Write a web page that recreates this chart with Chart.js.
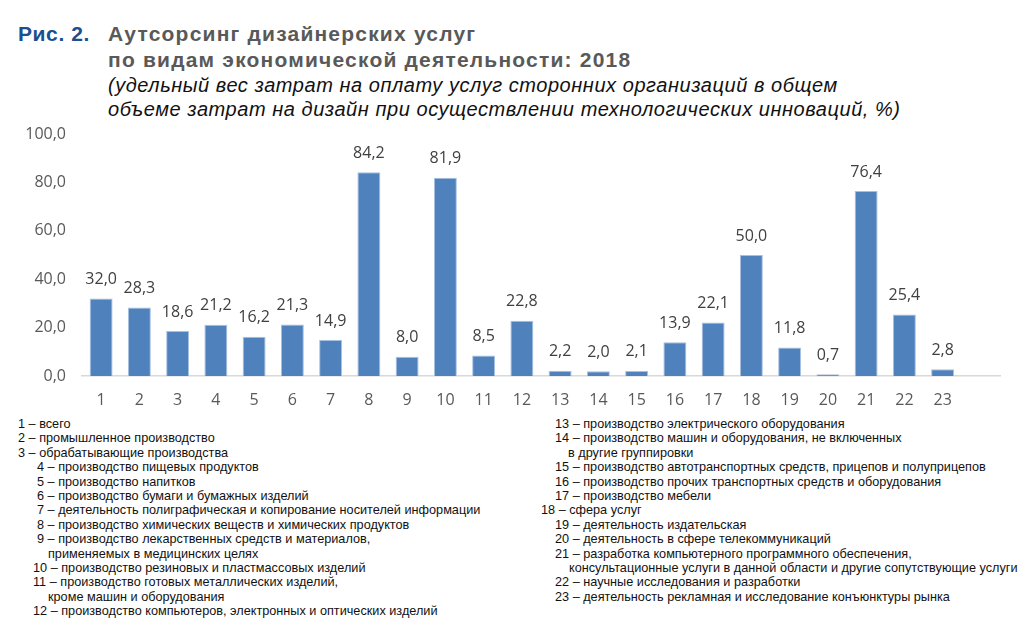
<!DOCTYPE html>
<html lang="ru">
<head>
<meta charset="utf-8">
<script src="https://cdn.jsdelivr.net/npm/chart.js@4"></script>
<style>
    body { margin: 0; width: 1024px; height: 627px; background: #fff; position: relative; overflow: hidden; font-family: "Liberation Sans", Arial, sans-serif; }
    .t { position: absolute; white-space: nowrap; line-height: 1; }
    .fig { left: 18px; top: 23px; font-size: 21px; font-weight: bold; color: #1b4f8f; letter-spacing: 0.6px; }
    .head { left: 108px; font-size: 21px; font-weight: bold; color: #595959; letter-spacing: 1.2px; }
    .sub { left: 108px; font-size: 20px; font-style: italic; color: #111; letter-spacing: 0.55px; }
    #chartBox { position: absolute; left: 0; top: 110px; width: 1024px; height: 306px; }
    .legend { position: absolute; top: 417px; font-size: 12.7px; line-height: 14.4px; color: #111; white-space: nowrap; }
    .legend div { height: 14.4px; }
</style>
</head>
<body>

<div class="t fig">Рис. 2.</div>
<div class="t head" style="top:23px">Аутсорсинг дизайнерских услуг</div>
<div class="t head" style="top:49px">по видам экономической деятельности: 2018</div>
<div class="t sub" style="top:75px">(удельный вес затрат на оплату услуг сторонних организаций в общем</div>
<div class="t sub" style="top:99px">объеме затрат на дизайн при осуществлении технологических инноваций, %)</div>

<div id="chartBox"><canvas id="chart"></canvas></div>

<div class="legend" style="left:18px">
    <div>1 – всего</div>
    <div>2 – промышленное производство</div>
    <div>3 – обрабатывающие производства</div>
    <div style="padding-left:19px">4 – производство пищевых продуктов</div>
    <div style="padding-left:19px">5 – производство напитков</div>
    <div style="padding-left:19px">6 – производство бумаги и бумажных изделий</div>
    <div style="padding-left:19px">7 – деятельность полиграфическая и копирование носителей информации</div>
    <div style="padding-left:19px">8 – производство химических веществ и химических продуктов</div>
    <div style="padding-left:19px">9 – производство лекарственных средств и материалов,</div>
    <div style="padding-left:30px">применяемых в медицинских целях</div>
    <div style="padding-left:15px">10 – производство резиновых и пластмассовых изделий</div>
    <div style="padding-left:15px">11 – производство готовых металлических изделий,</div>
    <div style="padding-left:30px">кроме машин и оборудования</div>
    <div style="padding-left:15px">12 – производство компьютеров, электронных и оптических изделий</div>
</div>

<div class="legend" style="left:541px">
    <div style="padding-left:14px">13 – производство электрического оборудования</div>
    <div style="padding-left:14px">14 – производство машин и оборудования, не включенных</div>
    <div style="padding-left:27px">в другие группировки</div>
    <div style="padding-left:14px">15 – производство автотранспортных средств, прицепов и полуприцепов</div>
    <div style="padding-left:14px">16 – производство прочих транспортных средств и оборудования</div>
    <div style="padding-left:14px">17 – производство мебели</div>
    <div>18 – сфера услуг</div>
    <div style="padding-left:14px">19 – деятельность издательская</div>
    <div style="padding-left:14px">20 – деятельность в сфере телекоммуникаций</div>
    <div style="padding-left:14px">21 – разработка компьютерного программного обеспечения,</div>
    <div style="padding-left:28px">консультационные услуги в данной области и другие сопутствующие услуги</div>
    <div style="padding-left:14px">22 – научные исследования и разработки</div>
    <div style="padding-left:14px">23 – деятельность рекламная и исследование конъюнктуры рынка</div>
</div>

<script>
    // --- Data ---
    // the axis in the picture has one empty slot after 23
    const categories = ['1', '2', '3', '4', '5', '6', '7', '8', '9', '10', '11', '12',
        '13', '14', '15', '16', '17', '18', '19', '20', '21', '22', '23', ''];
    const shares = [32.0, 28.3, 18.6, 21.2, 16.2, 21.3, 14.9, 84.2, 8.0, 81.9, 8.5, 22.8,
        2.2, 2.0, 2.1, 13.9, 22.1, 50.0, 11.8, 0.7, 76.4, 25.4, 2.8, null];
    const yTicks = [0, 20, 40, 60, 80, 100];

    const fmt = v => v.toFixed(1).replace('.', ',');
    const axisFont = { family: '"Open Sans", sans-serif', size: 16 };

    // подписи значений над столбиками
    const valueLabels = {
        id: 'valueLabels',
        afterDatasetsDraw(chart) {
            const ctx = chart.ctx;
            const meta = chart.getDatasetMeta(0);
            ctx.save();
            ctx.font = '16px "Open Sans", sans-serif';
            ctx.fillStyle = '#404040';
            ctx.textAlign = 'center';
            ctx.textBaseline = 'middle';
            meta.data.forEach((bar, i) => {
                if (shares[i] === null) return;
                ctx.fillText(fmt(shares[i]), bar.x, bar.y - 19);
            });
            ctx.restore();
        }
    };

    new Chart(document.getElementById('chart'), {
        type: 'bar',
        data: {
            labels: categories,
            datasets: [{
                data: shares,
                backgroundColor: '#4f81bd',
                borderColor: '#a7c0e0',
                borderWidth: 1,
                categoryPercentage: 1,
                barPercentage: 0.6
            }]
        },
        options: {
            responsive: true,
            maintainAspectRatio: false,
            animation: false,
            layout: { padding: { top: 24, right: 24, left: 0, bottom: 0 } },
            plugins: { legend: { display: false }, tooltip: { enabled: false } },
            scales: {
                x: {
                    grid: { display: false },
                    border: { display: true, color: '#d9d9d9', width: 1.5 },
                    ticks: { color: '#595959', font: axisFont, padding: 7, maxRotation: 0, autoSkip: false },
                    afterFit: s => { s.height = 40; }
                },
                y: {
                    min: 0,
                    max: 100,
                    afterBuildTicks: s => { s.ticks = yTicks.map(v => ({ value: v })); },
                    grid: { display: false },
                    border: { display: false },
                    ticks: { color: '#595959', font: axisFont, padding: 8, callback: v => fmt(v) },
                    afterFit: s => { s.width = 82; }
                }
            }
        },
        plugins: [valueLabels]
    });
</script>
</body>
</html>
